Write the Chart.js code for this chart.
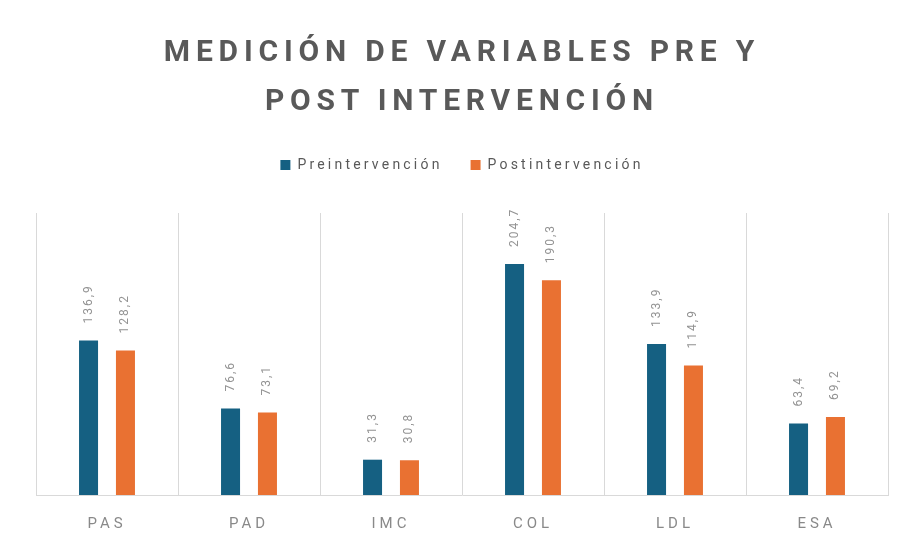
<!DOCTYPE html>
<html lang="es">
<head>
  <meta charset="UTF-8">
  <title>Medición de variables pre y post intervención</title>
  <style>
    body { margin: 0; background: #fff; }
    #wrap { position: relative; width: 903px; height: 545px; overflow: hidden; }
    #title {
      position: absolute; left: 36px; top: 26px; width: 852px;
      text-align: center; font-family: Roboto, sans-serif; font-weight: bold;
      font-size: 30px; line-height: 49px; letter-spacing: 5.8px; color: #595959;
    }
    canvas { position: absolute; left: 0; top: 0; }
  </style>
</head>
<body>
  <div id="wrap">
    <canvas id="chart" width="903" height="545"></canvas>
    <div id="title">MEDICIÓN DE VARIABLES PRE Y<br>POST INTERVENCIÓN</div>
  </div>

  <script src="https://cdn.jsdelivr.net/npm/chart.js"></script>
  <script>
    const categories = ['PAS', 'PAD', 'IMC', 'COL', 'LDL', 'ESA'];
    const preValues = [136.9, 76.6, 31.3, 204.7, 133.9, 63.4];
    const postValues = [128.2, 73.1, 30.8, 190.3, 114.9, 69.2];

    Chart.defaults.font.family = 'Roboto, sans-serif';

    // espaciado de letras y etiquetas de datos
    const extras = {
      id: 'extras',
      beforeLayout(chart) {
        chart.ctx.letterSpacing = '3.2px';
        if (!chart.legend._patched) {
          const fit = chart.legend.fit;
          chart.legend.fit = function () { fit.call(this); this.height += 31; };
          chart.legend._patched = true;
        }
      },
      beforeDraw(chart) {
        chart.ctx.letterSpacing = '3.2px';
      },
      afterDatasetsDraw(chart) {
        const ctx = chart.ctx;
        ctx.save();
        ctx.letterSpacing = '2px';
        ctx.font = '12px Roboto, sans-serif';
        ctx.fillStyle = '#939393';
        ctx.textAlign = 'left';
        ctx.textBaseline = 'middle';
        chart.data.datasets.forEach((ds, i) => {
          chart.getDatasetMeta(i).data.forEach((bar, j) => {
            const txt = ds.data[j].toFixed(1).replace('.', ',');
            ctx.save();
            ctx.translate(bar.x, bar.y - 17);
            ctx.rotate(-Math.PI / 2);
            ctx.fillText(txt, 0, 0);
            ctx.restore();
          });
        });
        ctx.restore();
        ctx.letterSpacing = '4px';
      }
    };

    new Chart(document.getElementById('chart'), {
      type: 'bar',
      data: {
        labels: categories,
        datasets: [
          { label: 'Preintervención', data: preValues, backgroundColor: '#156082', borderWidth: 0 },
          { label: 'Postintervención', data: postValues, backgroundColor: '#E97132', borderWidth: 0 }
        ]
      },
      options: {
        responsive: false,
        animation: false,
        categoryPercentage: 0.52,
        barPercentage: 0.515,
        layout: { padding: { top: 130, left: 36, right: 15, bottom: -8 } },
        plugins: {
          legend: {
            position: 'top',
            labels: {
              boxWidth: 10, boxHeight: 10, padding: 28,
              color: '#595959', font: { size: 14 }
            }
          },
          tooltip: { enabled: false }
        },
        scales: {
          x: {
            grid: { color: '#d9d9d9', drawTicks: false },
            border: { color: '#d9d9d9' },
            ticks: { color: '#898989', font: { size: 15 }, padding: 20, z: 1 }
          },
          y: { display: false, min: 0, max: 250 }
        }
      },
      plugins: [extras]
    });
  </script>
</body>
</html>
